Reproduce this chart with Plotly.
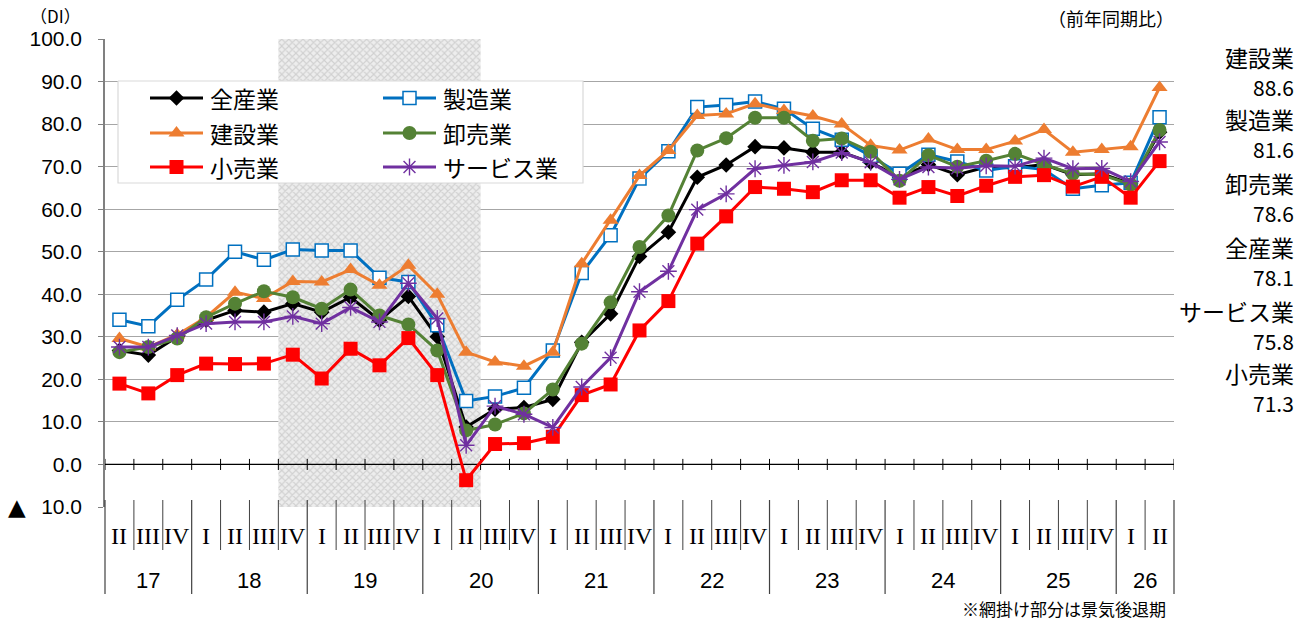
import plotly.graph_objects as go

# ---------------- data ----------------
years = ["17", "18", "19", "20", "21", "22", "23", "24", "25", "26"]
year_quarters = [
    ["II", "III", "IV"],
    ["I", "II", "III", "IV"],
    ["I", "II", "III", "IV"],
    ["I", "II", "III", "IV"],
    ["I", "II", "III", "IV"],
    ["I", "II", "III", "IV"],
    ["I", "II", "III", "IV"],
    ["I", "II", "III", "IV"],
    ["I", "II", "III", "IV"],
    ["I", "II"],
]

all_industry = [26.8, 25.7, 30.0, 33.9, 36.2, 35.8, 37.8, 35.8, 39.3, 33.9, 39.5, 30.0, 8.8, 13.0, 13.4,
                15.3, 28.7, 35.4, 48.9, 54.6, 67.5, 70.4, 74.7, 74.4, 73.4, 73.4, 71.0, 67.5, 70.5,
                68.1, 69.9, 69.7, 70.5, 68.1, 68.3, 66.0, 78.1]
manufacturing = [34.0, 32.5, 38.7, 43.5, 50.0, 48.1, 50.5, 50.3, 50.3, 43.9, 42.9, 32.7, 14.9, 16.0, 18.0,
                 26.8, 45.0, 53.9, 67.2, 73.6, 84.0, 84.5, 85.3, 83.6, 78.9, 76.3, 72.5, 68.3, 72.8,
                 71.2, 69.1, 70.1, 69.3, 64.8, 65.6, 66.2, 81.6]
construction = [29.6, 27.6, 30.5, 34.6, 40.5, 39.0, 43.0, 42.9, 45.8, 42.1, 46.8, 40.0, 26.4, 24.1, 23.1,
                26.4, 47.2, 57.4, 67.9, 73.8, 82.0, 82.4, 84.8, 83.2, 81.9, 80.0, 75.0, 73.9, 76.5,
                74.0, 74.0, 76.0, 78.7, 73.4, 74.0, 74.7, 88.6]
wholesale = [26.4, 27.6, 29.6, 34.6, 37.8, 40.7, 39.3, 36.6, 41.1, 35.0, 32.9, 26.8, 8.0, 9.4, 12.0,
             17.6, 28.4, 38.1, 51.1, 58.5, 73.8, 76.7, 81.5, 81.5, 76.1, 76.6, 73.5, 66.7, 72.7,
             70.0, 71.4, 73.0, 70.5, 68.3, 68.1, 65.8, 78.6]
retail = [19.0, 16.7, 21.0, 23.7, 23.6, 23.7, 25.8, 20.2, 27.2, 23.3, 29.7, 21.0, -3.7, 4.8, 5.0,
          6.5, 16.3, 18.8, 31.5, 38.4, 51.9, 58.3, 65.2, 64.8, 64.0, 66.8, 66.8, 62.7, 65.2,
          63.1, 65.5, 67.6, 68.0, 65.3, 67.6, 62.7, 71.3]
services = [27.6, 27.6, 30.3, 33.1, 33.5, 33.5, 34.8, 33.1, 36.9, 33.5, 42.6, 34.3, 4.5, 13.7, 11.8,
            8.7, 18.2, 25.1, 40.6, 45.4, 59.9, 63.6, 69.5, 70.3, 71.1, 73.3, 71.0, 67.0, 69.9,
            69.6, 70.2, 70.1, 72.0, 69.5, 69.6, 66.5, 75.8]

series_names = ["全産業", "製造業", "建設業", "卸売業", "小売業", "サービス業"]
series_values = [all_industry, manufacturing, construction, wholesale, retail, services]

# recession (shaded) period: first and last quarter
recession_start = ("18", "IV")
recession_end = ("20", "II")

y_tickvals = [-10, 0, 10, 20, 30, 40, 50, 60, 70, 80, 90, 100]
y_ticktext = ["10.0", "0.0", "10.0", "20.0", "30.0", "40.0",
              "50.0", "60.0", "70.0", "80.0", "90.0", "100.0"]
negative_mark = "▲"

# ---------------- styles ----------------
styles = {
    "全産業": dict(color="#000000", symbol="diamond", size=12, fill="#000000", lw=0),
    "製造業": dict(color="#0070C0", symbol="square", size=13, fill="#FFFFFF", lw=1.5),
    "建設業": dict(color="#ED7D31", symbol="triangle-up", size=14, fill="#ED7D31", lw=0),
    "卸売業": dict(color="#548235", symbol="circle", size=14, fill="#548235", lw=0),
    "小売業": dict(color="#FF0000", symbol="square", size=14, fill="#FF0000", lw=0),
    "サービス業": dict(color="#7030A0", symbol="asterisk-open", size=14, fill="#7030A0", lw=1.4),
}

W, H = 1309, 620
L, R, T, B = 105, 1174, 39, 507


def px_x(p):
    return (p - L) / (R - L)


def px_y(p):
    return (B - p) / (B - T)


categories = [(y, q) for y, qs in zip(years, year_quarters) for q in qs]
N = len(categories)
xs = list(range(N))

fig = go.Figure()

# shaded recession band
i0 = categories.index(recession_start)
i1 = categories.index(recession_end)
fig.add_trace(go.Bar(
    x=[(i0 + i1) / 2], y=[110], base=[-10], width=[i1 - i0 + 1],
    marker=dict(color="#EEEEEE", line=dict(width=0),
                pattern=dict(shape="x", fgcolor="#B4B4B4", bgcolor="#EDEDED", size=5, solidity=0.4)),
    hoverinfo="skip", showlegend=False,
))

# zero line with category tick marks
fig.add_trace(go.Scatter(x=[-0.5, N - 0.5], y=[0, 0], mode="lines",
                         line=dict(color="#000000", width=1.3), hoverinfo="skip", showlegend=False))
tx, ty = [], []
for k in range(N + 1):
    tx += [k - 0.5, k - 0.5, None]
    ty += [-1.3, 1.3, None]
fig.add_trace(go.Scatter(x=tx, y=ty, mode="lines", line=dict(color="#000000", width=1),
                         hoverinfo="skip", showlegend=False))

# data series
for name, vals in zip(series_names, series_values):
    s = styles[name]
    fig.add_trace(go.Scatter(
        x=xs, y=vals, mode="lines+markers", name=name,
        line=dict(color=s["color"], width=3),
        marker=dict(symbol=s["symbol"], size=s["size"], color=s["fill"],
                    line=dict(color=s["color"], width=s["lw"])),
        showlegend=False, cliponaxis=False,
    ))

# ------------- manual legend on pixel overlay axes -------------
box = dict(x0=118, x1=583, y0=81, y1=183)
fig.add_trace(go.Scatter(
    x=[box["x0"], box["x1"], box["x1"], box["x0"], box["x0"]],
    y=[box["y0"], box["y0"], box["y1"], box["y1"], box["y0"]],
    mode="lines", fill="toself", fillcolor="#FFFFFF",
    line=dict(color="#D9D9D9", width=1.2), xaxis="x2", yaxis="y2",
    hoverinfo="skip", showlegend=False,
))
legend_cols = [150, 383]
legend_rows = [98, 133, 167]
annotations = []
for idx, name in enumerate(series_names):
    s = styles[name]
    col, row = idx % 2, idx // 2
    lx0 = legend_cols[col]
    ly = legend_rows[row]
    fig.add_trace(go.Scatter(x=[lx0, lx0 + 53], y=[ly, ly], mode="lines",
                             line=dict(color=s["color"], width=3), xaxis="x2", yaxis="y2",
                             hoverinfo="skip", showlegend=False))
    fig.add_trace(go.Scatter(x=[lx0 + 26.5], y=[ly], mode="markers",
                             marker=dict(symbol=s["symbol"], size=s["size"], color=s["fill"],
                                         line=dict(color=s["color"], width=s["lw"])),
                             xaxis="x2", yaxis="y2", hoverinfo="skip", showlegend=False))
    annotations.append(dict(x=px_x(lx0 + 58), y=px_y(ly), xref="paper", yref="paper",
                            text=name, showarrow=False, xanchor="left", yanchor="middle",
                            font=dict(family="Noto Sans CJK JP", size=23, color="#000000")))

# ------------- category table below the plot -------------
shapes = []
year_bounds = set()
c = 0
year_centers = []
for y, qs in zip(years, year_quarters):
    year_bounds.add(c)
    year_centers.append((y, c + (len(qs) - 1) / 2))
    c += len(qs)
year_bounds.add(c)

for k in range(N + 1):
    yb = 594 if k in year_bounds else 550
    shapes.append(dict(type="line", xref="paper", yref="paper",
                       x0=k / N, x1=k / N, y0=px_y(500), y1=px_y(yb),
                       line=dict(color="#404040", width=1.2 if k in year_bounds else 1)))

for i, (y, q) in enumerate(categories):
    annotations.append(dict(x=(i + 0.5) / N, y=px_y(536), xref="paper", yref="paper",
                            text=q, showarrow=False, xanchor="center", yanchor="middle",
                            font=dict(family="Liberation Serif", size=24, color="#000000")))
for y, cidx in year_centers:
    annotations.append(dict(x=(cidx + 0.5) / N, y=px_y(580), xref="paper", yref="paper",
                            text=y, showarrow=False, xanchor="center", yanchor="middle",
                            font=dict(family="Liberation Sans", size=22, color="#000000")))

# negative sign mark for the -10 tick
annotations.append(dict(x=px_x(17), y=-10, xref="paper", yref="y", text=negative_mark,
                        showarrow=False, xanchor="center", yanchor="middle",
                        font=dict(family="DejaVu Sans", size=23, color="#000000")))

# ------------- right-side labels (sorted by latest value) -------------
latest = sorted(zip(series_names, [v[-1] for v in series_values]), key=lambda t: -t[1])
name_y = [57, 119, 183, 247, 311, 373]
for (name, val), ny in zip(latest, name_y):
    annotations.append(dict(x=px_x(1296), y=px_y(ny), xref="paper", yref="paper", text=name,
                            showarrow=False, xanchor="right", yanchor="middle",
                            font=dict(family="Noto Sans CJK JP", size=23, color="#000000")))
    annotations.append(dict(x=px_x(1296), y=px_y(ny + 30), xref="paper", yref="paper",
                            text=f"{val:.1f}", showarrow=False, xanchor="right", yanchor="middle",
                            font=dict(family="Noto Sans CJK JP", size=21, color="#000000")))

# titles / notes
annotations.append(dict(x=px_x(28), y=px_y(16), xref="paper", yref="paper", text="（DI）",
                        showarrow=False, xanchor="left", yanchor="middle",
                        font=dict(family="Noto Sans CJK JP", size=17, color="#000000")))
annotations.append(dict(x=px_x(1176), y=px_y(18), xref="paper", yref="paper", text="（前年同期比）",
                        showarrow=False, xanchor="right", yanchor="middle",
                        font=dict(family="Noto Sans CJK JP", size=18, color="#000000")))
annotations.append(dict(x=px_x(1168), y=px_y(608), xref="paper", yref="paper",
                        text="※網掛け部分は景気後退期", showarrow=False, xanchor="right", yanchor="middle",
                        font=dict(family="Noto Sans CJK JP", size=17, color="#000000")))

fig.update_layout(
    width=W, height=H,
    margin=dict(l=L, r=W - R, t=T, b=H - B, autoexpand=False),
    paper_bgcolor="#FFFFFF", plot_bgcolor="#FFFFFF",
    showlegend=False, barmode="overlay",
    xaxis=dict(range=[-0.5, N - 0.5], showgrid=False, zeroline=False, showticklabels=False,
               showline=False, ticks="", fixedrange=True, automargin=False),
    yaxis=dict(range=[-10, 100], tickvals=y_tickvals, ticktext=y_ticktext,
               showgrid=True, gridcolor="#A6A6A6", gridwidth=1.3, zeroline=False,
               showline=True, linecolor="#808080", linewidth=1.5, automargin=False,
               ticks="outside", ticklen=5, tickcolor="#808080", ticklabelstandoff=12,
               tickfont=dict(family="Liberation Sans", size=21, color="#000000"), fixedrange=True),
    xaxis2=dict(overlaying="x", range=[L, R], visible=False, fixedrange=True),
    yaxis2=dict(overlaying="y", range=[B, T], visible=False, fixedrange=True),
    shapes=shapes,
    annotations=annotations,
)

fig.write_html("out.html", config={"displayModeBar": False},
               post_script="document.body.style.margin='0px';")
